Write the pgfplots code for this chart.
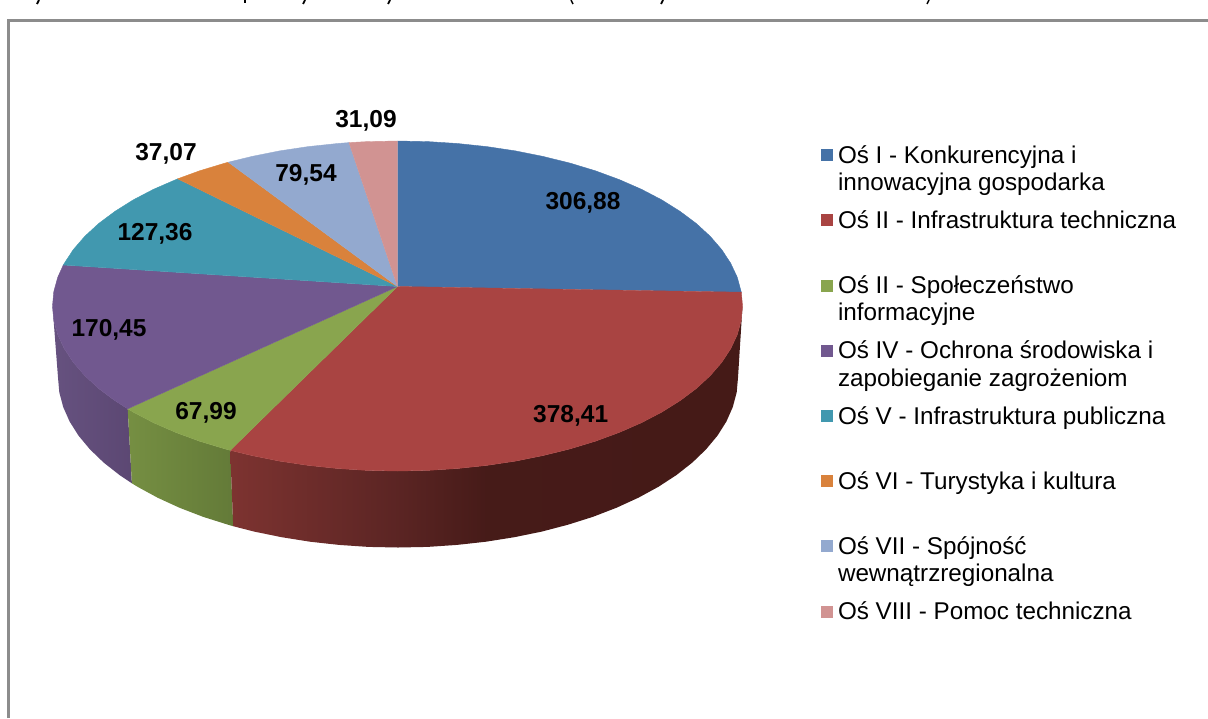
\documentclass[border=0pt]{standalone}
\usepackage{fontspec}
\setmainfont{Liberation Sans}
\usepackage{pgfplots}
\pgfplotsset{compat=1.18}
\definecolor{c1}{HTML}{4572A7}
\definecolor{c2}{HTML}{A94442}
\definecolor{c3}{HTML}{89A54E}
\definecolor{c4}{HTML}{71588F}
\definecolor{c5}{HTML}{4198AF}
\definecolor{c6}{HTML}{D9823C}
\definecolor{c7}{HTML}{93A9CF}
\definecolor{c8}{HTML}{D19392}
\definecolor{frame}{HTML}{8C8C8C}
\pgfdeclarehorizontalshading{redwall}{100bp}{rgb(0bp)=(.49,.20,.19); rgb(25bp)=(.49,.20,.19); rgb(41bp)=(.36,.145,.14); rgb(50bp)=(.275,.105,.095); rgb(75bp)=(.27,.10,.09); rgb(100bp)=(.27,.10,.09)}
\pgfdeclarehorizontalshading{greenwall}{100bp}{rgb(0bp)=(.46,.56,.26); rgb(25bp)=(.46,.56,.26); rgb(75bp)=(.39,.48,.22); rgb(100bp)=(.39,.48,.22)}
\pgfdeclarehorizontalshading{purplewall}{100bp}{rgb(0bp)=(.40,.32,.50); rgb(25bp)=(.40,.32,.50); rgb(75bp)=(.36,.28,.45); rgb(100bp)=(.36,.28,.45)}
\newcommand{\lgd}[1]{\rule[-23pt]{0pt}{32.6pt}\parbox[t]{175pt}{\fontsize{12.12}{13.6}\selectfont #1}}
\begin{document}
\begin{tikzpicture}
\begin{axis}[
  x=0.5pt,y=0.5pt,y dir=reverse,
  xmin=0,xmax=1208,ymin=0,ymax=718,
  hide axis,scale only axis,clip=true,no markers,
  legend image code/.code={\path[#1,draw=none] (0pt,1pt) rectangle (6pt,7pt);},
  legend style={draw=none,fill=none,at={(axis cs:821,144)},anchor=north west,
    inner sep=0pt,outer sep=0pt,row sep=0pt,
    cells={anchor=base west},nodes={inner sep=0pt,outer sep=0pt,text depth={}},
    /tikz/every odd column/.append style={column sep=2.5pt}},
]
\addplot[draw=none,forget plot] coordinates {(0,0)(1208,718)};
% frame
\addplot[frame,line width=1.5pt,forget plot] coordinates {(8.5,718)(8.5,20.5)(1208,20.5)};
% tails of the cropped line above
\addplot[black,line width=.9pt,forget plot] coordinates {(39,0)(37,4)};
\addplot[black,line width=.9pt,forget plot] coordinates {(245,0)(245,3)};
\addplot[black,line width=.9pt,forget plot] coordinates {(305,0)(303,4)};
\addplot[black,line width=.9pt,forget plot] coordinates {(390,0)(388,4)};
\addplot[black,line width=.7pt,forget plot] coordinates {(571,0)(573,4)};
\addplot[black,line width=.9pt,forget plot] coordinates {(663,0)(661,4)};
\addplot[black,line width=.7pt,forget plot] coordinates {(929,0)(927,4)};
% walls
\addplot[shade,shading=purplewall,draw=none,forget plot] coordinates {
(127.7,408.8)(114.9,400.6)(98.7,388.5)(84.8,375.7)(73.3,362.4)(64.3,348.7)(57.7,334.6)(53.8,320.4)(52.5,306)
(58,377.5)(59.3,392.3)(63.2,407)(69.6,421.5)(78.5,435.6)(89.9,449.3)(103.6,462.5)(119.5,475)(131.9,483.3)};
\addplot[shade,shading=greenwall,draw=none,forget plot] coordinates {
(230.2,450.3)(225.0,448.9)(199.6,441.2)(175.7,432.4)(153.5,422.7)(133.2,412.1)(127.7,408.8)
(131.9,483.3)(137.6,486.8)(157.6,497.7)(179.4,507.7)(203,516.8)(228,524.7)(233.2,526.2)};
\addplot[shade,shading=redwall,draw=none,forget plot] coordinates {
(742.5,306)(741.2,320.4)(737.3,334.6)(730.7,348.7)(721.7,362.4)(710.2,375.7)(696.3,388.5)(680.1,400.6)(661.8,412.1)(641.5,422.7)(619.3,432.4)(595.4,441.2)(570.0,448.9)(543.3,455.5)(515.5,461.1)(486.8,465.4)(457.4,468.5)(427.6,470.4)(397.5,471)(367.4,470.4)(337.6,468.5)(308.2,465.4)(279.5,461.1)(251.7,455.5)(230.2,450.3)
(233.2,526.2)(254.3,531.6)(281.7,537.2)(310,541.7)(339,544.9)(368.4,546.9)(398,547.5)(427.6,546.9)(457,544.9)(486,541.7)(514.3,537.2)(541.7,531.6)(568,524.7)(593,516.8)(616.6,507.7)(638.4,497.7)(658.4,486.8)(676.5,475)(692.4,462.5)(706.1,449.3)(717.5,435.6)(726.4,421.5)(732.8,407)(736.7,392.3)(738,377.5)};
% top faces
\addplot[fill=c1,draw=c1,line width=.2pt] coordinates {
(397.5,286.5)(397.5,141)(427.6,141.6)(457.4,143.5)(486.8,146.6)(515.5,150.9)(543.3,156.5)(570.0,163.1)(595.4,170.8)(619.3,179.6)(641.5,189.3)(661.8,199.9)(680.1,211.4)(696.3,223.5)(710.2,236.3)(721.7,249.6)(730.7,263.3)(737.3,277.4)(741.3,292.2)};
\addlegendentry{\lgd{Oś I - Konkurencyjna i\\innowacyjna gospodarka}}
\addplot[fill=c2,draw=c2,line width=.2pt] coordinates {
(397.5,286.5)(741.3,292.2)(742.5,306)(741.2,320.4)(737.3,334.6)(730.7,348.7)(721.7,362.4)(710.2,375.7)(696.3,388.5)(680.1,400.6)(661.8,412.1)(641.5,422.7)(619.3,432.4)(595.4,441.2)(570.0,448.9)(543.3,455.5)(515.5,461.1)(486.8,465.4)(457.4,468.5)(427.6,470.4)(397.5,471)(367.4,470.4)(337.6,468.5)(308.2,465.4)(279.5,461.1)(251.7,455.5)(230.2,450.3)};
\addlegendentry{\lgd{Oś II - Infrastruktura techniczna}}
\addplot[fill=c3,draw=c3,line width=.2pt] coordinates {
(397.5,286.5)(230.2,450.3)(225.0,448.9)(199.6,441.2)(175.7,432.4)(153.5,422.7)(133.2,412.1)(127.7,408.8)};
\addlegendentry{\lgd{Oś II - Społeczeństwo\\informacyjne}}
\addplot[fill=c4,draw=c4,line width=.2pt] coordinates {
(397.5,286.5)(127.7,408.8)(114.9,400.6)(98.7,388.5)(84.8,375.7)(73.3,362.4)(64.3,348.7)(57.7,334.6)(53.8,320.4)(52.5,306)(53.8,291.6)(57.7,277.4)(63.3,265)};
\addlegendentry{\lgd{Oś IV - Ochrona środowiska i\\zapobieganie zagrożeniom}}
\addplot[fill=c5,draw=c5,line width=.2pt] coordinates {
(397.5,286.5)(63.3,265)(64.3,263.3)(73.3,249.6)(84.8,236.3)(98.7,223.5)(114.9,211.4)(133.2,199.9)(153.5,189.3)(177.7,178.8)};
\addlegendentry{\lgd{Oś V - Infrastruktura publiczna}}
\addplot[fill=c6,draw=c6,line width=.2pt] coordinates {
(397.5,286.5)(177.7,178.8)(199.6,170.8)(225.0,163.1)(228.3,162.2)};
\addlegendentry{\lgd{Oś VI - Turystyka i kultura}}
\addplot[fill=c7,draw=c7,line width=.2pt] coordinates {
(397.5,286.5)(228.3,162.2)(251.7,156.5)(279.5,150.9)(308.2,146.6)(337.6,143.5)(349,142.6)};
\addlegendentry{\lgd{Oś VII - Spójność\\wewnątrzregionalna}}
\addplot[fill=c8,draw=c8,line width=.2pt] coordinates {
(397.5,286.5)(349,142.6)(367.4,141.6)(397.5,141)};
\addlegendentry{\lgd{Oś VIII - Pomoc techniczna}}
% value labels
\begin{scope}[every node/.style={anchor=base,inner sep=0pt,font=\fontsize{12.25}{14}\selectfont\bfseries}]
\node at (axis cs:583,209) {306,88};
\node at (axis cs:570.7,422) {378,41};
\node at (axis cs:206,419.5) {67,99};
\node at (axis cs:109,336) {170,45};
\node at (axis cs:155,240) {127,36};
\node at (axis cs:166,160) {37,07};
\node at (axis cs:306,181.7) {79,54};
\node at (axis cs:366,127.5) {31,09};
\end{scope}
\end{axis}
\end{tikzpicture}
\end{document}
